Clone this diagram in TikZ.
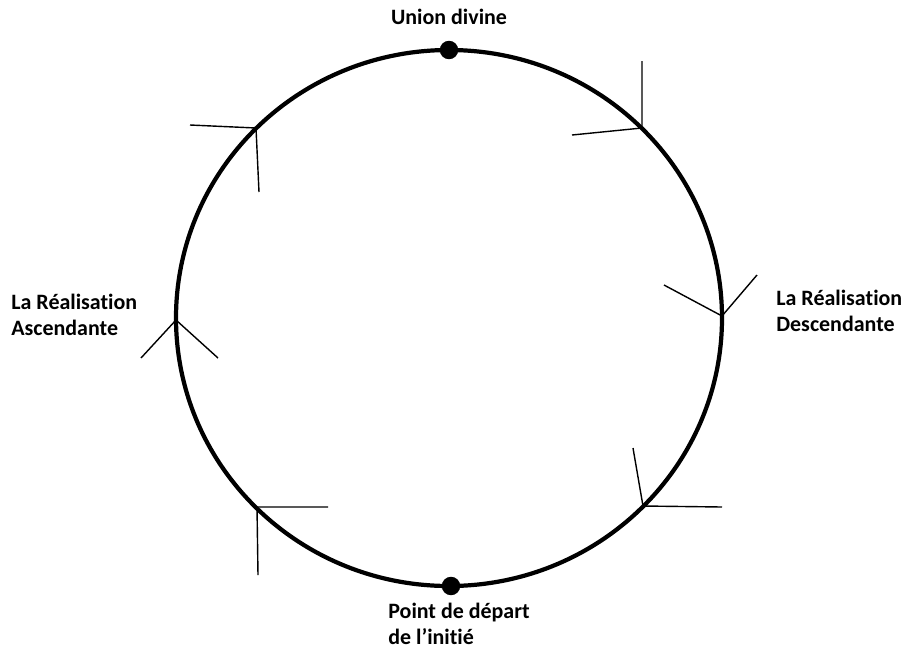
\documentclass[tikz,border=0pt]{standalone}
\usepackage{fontspec}
\setmainfont{Carlito}[Ligatures=NoCommon]

\begin{document}
\begin{tikzpicture}[
        x=0.02cm, y=-0.02cm,
        % Ring: thick black outline
        ring/.style={draw=black, line width=2.4pt},
        % Chevron arms: thin lines
        arm/.style={draw=black, line width=0.8pt},
        % Stage dots on the ring
        stagedot/.style={circle, fill=black, inner sep=0pt, minimum size=10.5pt},
        % Captions: bold sans text
        caption/.style={font=\fontsize{12.5pt}{14.8pt}\selectfont\bfseries,
            inner sep=0pt, align=left},
        ]

        \useasboundingbox (0,0) rectangle (907,654);

        % === The ring ===
        \coordinate (centre) at (449,318);
        \draw[ring] (centre) ellipse [x radius=273, y radius=268];

        % === Stage dots: top and bottom ===
        \node[stagedot] (top) at (449,50) {};
        \node[stagedot] (bottom) at (451,586) {};

        % === Chevron tips on the ring ===
        \coordinate (t1) at (642,128);
        \coordinate (t2) at (256,128);
        \coordinate (t3) at (722,316);
        \coordinate (t4) at (176,320);
        \coordinate (t5) at (643,506);
        \coordinate (t6) at (257,507);

        % === Chevrons ===
        \draw[arm] (t1) ++(0,-67) -- (t1) -- ++(-70,7);
        \draw[arm] (t2) ++(-66,-3) -- (t2) -- ++(3,64);
        \draw[arm] (t3) ++(-58,-31) -- (t3) -- ++(35,-41);
        \draw[arm] (t4) ++(-35,38) -- (t4) -- ++(42,38);
        \draw[arm] (t5) ++(-10,-58) -- (t5) -- ++(79,1);
        \draw[arm] (t6) ++(71,0) -- (t6) -- ++(1,68);

        % === Captions ===
        \node[caption] (union) at (449,17) {Union divine};
        \node[caption, anchor=west] (ascend) at (11,315) {La Réalisation\\Ascendante};
        \node[caption, anchor=west] (descend) at (776,311) {La Réalisation\\Descendante};
        \node[caption, anchor=north west] (start) at (388,603) {Point de départ\\de l’initié};

    \end{tikzpicture}
\end{document}
